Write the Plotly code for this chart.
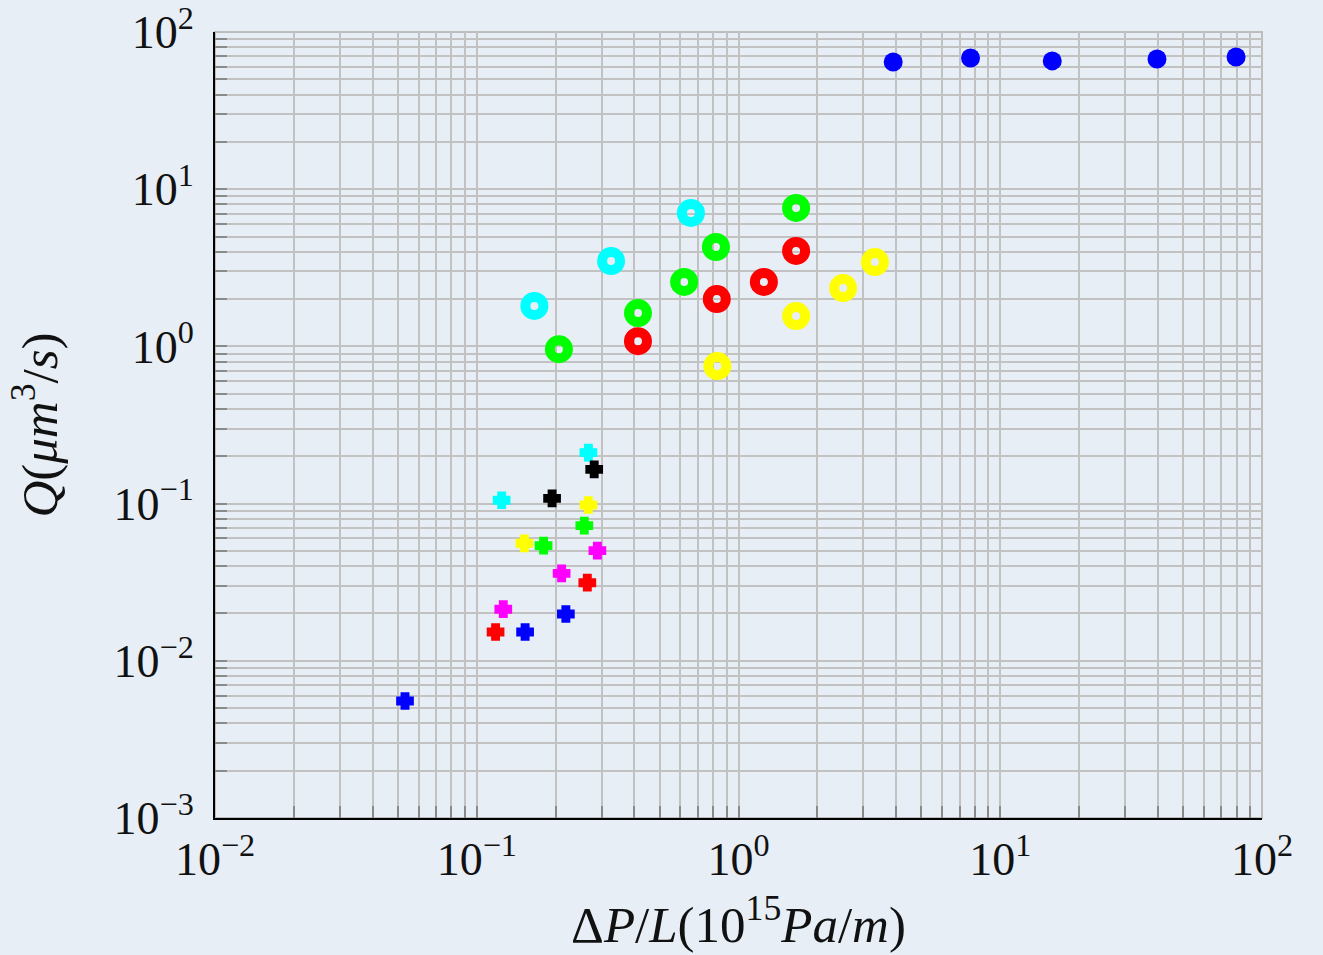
import plotly.graph_objects as go

# ---- data ----
dots_x = [3.9, 7.7, 15.8, 39.7, 79.6]
dots_y = [64.4, 68.3, 65.5, 67.3, 69.3]

ring_cyan_x = [0.166, 0.326, 0.658]
ring_cyan_y = [1.81, 3.49, 7.06]
ring_green_x = [0.206, 0.413, 0.62, 0.82, 1.66]
ring_green_y = [0.96, 1.63, 2.57, 4.29, 7.6]
ring_red_x = [0.413, 0.826, 1.25, 1.66]
ring_red_y = [1.08, 2.0, 2.57, 4.05]
ring_yellow_x = [0.83, 1.66, 2.51, 3.32]
ring_yellow_y = [0.75, 1.56, 2.35, 3.44]

cross_cyan_x = [0.1245, 0.267]
cross_cyan_y = [0.105, 0.211]
cross_black_x = [0.194, 0.281]
cross_black_y = [0.108, 0.165]
cross_yellow_x = [0.152, 0.267]
cross_yellow_y = [0.0559, 0.098]
cross_green_x = [0.180, 0.2576]
cross_green_y = [0.054, 0.0724]
cross_magenta_x = [0.1263, 0.211, 0.289]
cross_magenta_y = [0.0213, 0.036, 0.0502]
cross_red_x = [0.118, 0.2645]
cross_red_y = [0.01525, 0.0314]
cross_blue_x = [0.0532, 0.153, 0.219]
cross_blue_y = [0.00555, 0.01525, 0.01985]

x_decades = [-2, -1, 0, 1, 2]
y_decades = [-3, -2, -1, 0, 1, 2]


def sup(e):
    s = str(e).replace("-", "\u2212")
    return f"10<sup>{s}</sup>"


def log_ticks(decades):
    vals, texts = [], []
    for d in decades:
        for m in range(1, 10):
            if d == decades[-1] and m > 1:
                break
            vals.append(m * 10.0 ** d)
            texts.append(sup(d) if m == 1 else "")
    return vals, texts


xt_vals, xt_text = log_ticks(x_decades)
yt_vals, yt_text = log_ticks(y_decades)

fig = go.Figure()

# crosses
for xs, ys, c in [
    (cross_cyan_x, cross_cyan_y, "#00ffff"),
    (cross_yellow_x, cross_yellow_y, "#ffff00"),
    (cross_green_x, cross_green_y, "#00ff00"),
    (cross_magenta_x, cross_magenta_y, "#ff00ff"),
    (cross_red_x, cross_red_y, "#ff0000"),
    (cross_blue_x, cross_blue_y, "#0000ff"),
    (cross_black_x, cross_black_y, "#000000"),
]:
    fig.add_trace(go.Scatter(
        x=xs, y=ys, mode="markers",
        marker=dict(symbol="cross", size=11, color=c,
                    line=dict(color=c, width=4.5)),
        showlegend=False))

# rings
for xs, ys, c in [
    (ring_cyan_x, ring_cyan_y, "#00ffff"),
    (ring_green_x, ring_green_y, "#00ff00"),
    (ring_red_x, ring_red_y, "#ff0000"),
    (ring_yellow_x, ring_yellow_y, "#ffff00"),
]:
    fig.add_trace(go.Scatter(
        x=xs, y=ys, mode="markers",
        marker=dict(symbol="circle-open", size=18, color=c,
                    line=dict(color=c, width=10)),
        showlegend=False))

# filled dots
fig.add_trace(go.Scatter(
    x=dots_x, y=dots_y, mode="markers",
    marker=dict(symbol="circle", size=19, color="#0000ff", line=dict(width=0)),
    showlegend=False))

bg = "#e7eef6"
grid = "#c2c2c2"
font = "Liberation Serif"

# frame (top/right)
fig.add_shape(type="rect", xref="paper", yref="paper", x0=0, y0=0, x1=1, y1=1,
              line=dict(color="#bdbdbd", width=2), layer="below")

fig.update_layout(
    width=1323, height=955,
    margin=dict(l=215, r=61, t=32, b=137),
    paper_bgcolor=bg, plot_bgcolor=bg,
    font=dict(family=font, size=46, color="#111111"),
)

fig.update_xaxes(
    type="log", range=[-2, 2], automargin=False,
    tickmode="array", tickvals=xt_vals, ticktext=xt_text,
    showgrid=True, gridcolor=grid, gridwidth=1.5,
    ticks="inside", ticklen=12, tickcolor="#8a8a8a", tickwidth=1.5,
    showline=True, linecolor="black", linewidth=2, mirror=False,
    zeroline=False, ticklabeloverflow="allow",
    tickfont=dict(family=font, size=46),
    title=dict(text="\u0394<i>P</i>/<i>L</i>(10<sup>15</sup><i>Pa</i>/<i>m</i>)",
               font=dict(family=font, size=51), standoff=22),
)
fig.update_yaxes(
    type="log", range=[-3, 2], automargin=False,
    tickmode="array", tickvals=yt_vals, ticktext=yt_text,
    showgrid=True, gridcolor=grid, gridwidth=1.5,
    ticks="inside", ticklen=12, tickcolor="#8a8a8a", tickwidth=1.5,
    showline=True, linecolor="black", linewidth=2, mirror=False,
    zeroline=False, ticklabelstandoff=10, ticklabeloverflow="allow",
    tickfont=dict(family=font, size=46),
    title=dict(text="<i>Q</i>(<i>\u03bcm</i><sup>3</sup>/<i>s</i>)",
               font=dict(family=font, size=51), standoff=40),
)

fig.write_html("out.html")
